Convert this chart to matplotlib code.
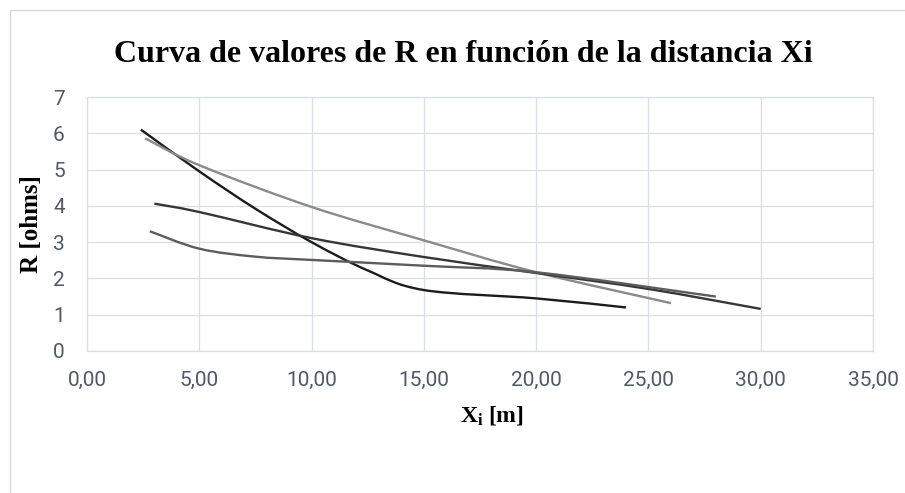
import matplotlib
matplotlib.use("Agg")
import matplotlib.pyplot as plt
from matplotlib.path import Path
from matplotlib.patches import PathPatch, Rectangle

# distance Xi [m] and resistance R [ohms] for each measurement line
x_a = [2.4, 5.0, 7.5, 10.0, 12.5, 15.0, 20.0, 24.0]
r_a = [6.10, 4.95, 3.92, 3.0, 2.22, 1.68, 1.45, 1.20]

x_b = [2.6, 5.0, 10.0, 15.0, 20.0, 26.0]
r_b = [5.86, 5.12, 3.97, 3.05, 2.17, 1.32]

x_c = [3.0, 5.0, 10.0, 15.0, 20.0, 25.0, 30.0]
r_c = [4.06, 3.83, 3.11, 2.59, 2.15, 1.71, 1.16]

x_d = [2.8, 5.0, 7.5, 10.0, 15.0, 20.0, 28.0]
r_d = [3.30, 2.82, 2.60, 2.51, 2.35, 2.17, 1.50]

x_ticks = [0, 5, 10, 15, 20, 25, 30, 35]
y_ticks = [0, 1, 2, 3, 4, 5, 6, 7]

series = [
    (x_a, r_a, "#1c1c1c"),
    (x_b, r_b, "#8a8a8a"),
    (x_c, r_c, "#363636"),
    (x_d, r_d, "#5c5c5c"),
]

plt.rcParams["mathtext.fontset"] = "custom"
plt.rcParams["mathtext.rm"] = "Liberation Serif:bold"
plt.rcParams["mathtext.it"] = "Liberation Serif:bold"
plt.rcParams["mathtext.bf"] = "Liberation Serif:bold"

GRID = "#d9dde4"
TICK = "#4d5869"


def smooth_path(xs, ys):
    # spreadsheet-style smoothed line: cubic bezier through every point
    pts = list(zip(xs, ys))
    n = len(pts)
    verts = [pts[0]]
    codes = [Path.MOVETO]
    for i in range(n - 1):
        p0 = pts[max(i - 1, 0)]
        p1 = pts[i]
        p2 = pts[i + 1]
        p3 = pts[min(i + 2, n - 1)]
        c1 = (p1[0] + (p2[0] - p0[0]) / 6, p1[1] + (p2[1] - p0[1]) / 6)
        c2 = (p2[0] - (p3[0] - p1[0]) / 6, p2[1] - (p3[1] - p1[1]) / 6)
        verts += [c1, c2, p2]
        codes += [Path.CURVE4] * 3
    return Path(verts, codes)


fig = plt.figure(figsize=(9.05, 4.93), dpi=100)
ax = fig.add_axes([87 / 905, 1 - 351 / 493, 786 / 905, 254 / 493])

for xs, ys, color in series:
    patch = PathPatch(smooth_path(xs, ys), fill=False, edgecolor=color,
                      linewidth=1.7, capstyle="butt", joinstyle="round")
    ax.add_patch(patch)

ax.set_xlim(0, 35)
ax.set_ylim(0, 7)
ax.set_xticks(x_ticks)
ax.set_yticks(y_ticks)
ax.set_xticklabels([f"{v:.2f}".replace(".", ",") for v in x_ticks])
ax.set_yticklabels([str(v) for v in y_ticks])
ax.grid(True, color=GRID, linewidth=0.9)
ax.set_axisbelow(True)
for spine in ax.spines.values():
    spine.set_color(GRID)
    spine.set_linewidth(0.9)
ax.tick_params(length=0, labelcolor=TICK, labelsize=15)
ax.tick_params(axis="x", pad=14)
ax.tick_params(axis="y", pad=16)
for lbl in ax.get_xticklabels() + ax.get_yticklabels():
    lbl.set_fontfamily("Roboto")

ax.set_xlabel(r"$X_i$ [m]", fontfamily="Liberation Serif", fontweight="bold",
              fontsize=17)
ax.xaxis.set_label_coords(0.515, -0.21)
ax.set_ylabel("R [ohms]", fontfamily="Liberation Serif", fontweight="bold",
              fontsize=18)
ax.yaxis.set_label_coords(-0.056, 0.5)

fig.text(463.5 / 905, 1 - 62 / 493, "Curva de valores de R en función de la distancia Xi",
         ha="center", va="baseline", fontfamily="Liberation Serif",
         fontweight="bold", fontsize=23)

# chart area border
fig.patches.append(Rectangle((10 / 905, -0.1), 1.2, 1 - 10 / 493 + 0.1,
                             transform=fig.transFigure, fill=False,
                             edgecolor="#d9d9d9", linewidth=1.0))

fig.savefig("out.png", dpi=100)
